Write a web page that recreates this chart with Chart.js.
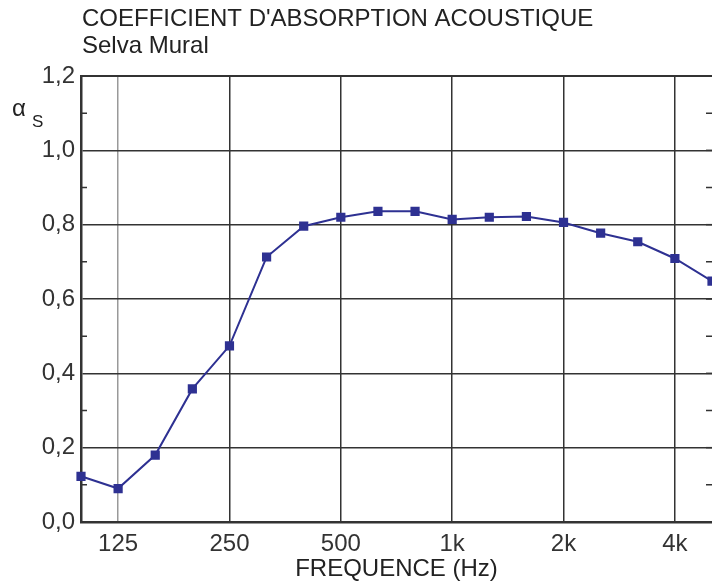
<!DOCTYPE html>
<html><head><meta charset="utf-8">
<script src="https://cdn.jsdelivr.net/npm/chart.js@4/dist/chart.umd.min.js"></script>
<style>html,body{margin:0;padding:0;background:#fff}#wrap{width:712px;height:584px;position:relative}</style>
</head><body><div id="wrap"><canvas id="c"></canvas></div>
<script>
const frequencies = ['100','125','160','200','250','315','400','500','630','800','1000','1250','1600','2000','2500','3150','4000','5000'];
const absorption = [0.123,0.09,0.18,0.358,0.474,0.713,0.796,0.82,0.836,0.836,0.814,0.82,0.822,0.806,0.777,0.754,0.709,0.648];
const xTickLabels = {'125':'125','250':'250','500':'500','1000':'1k','2000':'2k','4000':'4k'};
const yTickLabels = ['0,0','0,2','0,4','0,6','0,8','1,0','1,2'];
const titleText = "COEFFICIENT D'ABSORPTION ACOUSTIQUE";
const subtitleText = 'Selva Mural';
const xTitleText = 'FREQUENCE (Hz)';

const FONT = '"Liberation Sans", Arial, Helvetica, sans-serif';

const decor = {
  id: 'decor',
  beforeDatasetsDraw(chart) {
    const {ctx, chartArea: a, scales: {y}} = chart;
    ctx.save();
    ctx.strokeStyle = '#333';
    ctx.lineWidth = 2;
    ctx.beginPath(); ctx.moveTo(a.left, a.top); ctx.lineTo(a.right, a.top); ctx.stroke();
    ctx.lineWidth = 1.5;
    for (let i = 1; i < 12; i++) {
      const py = y.getPixelForValue(i / 10);
      ctx.beginPath();
      if (i % 2 === 1) { ctx.moveTo(a.left, py); ctx.lineTo(a.left + 6, py); }
      ctx.moveTo(a.right - 6, py); ctx.lineTo(a.right, py);
      ctx.stroke();
    }
    ctx.restore();
  },
  afterDraw(chart) {
    const {ctx, chartArea: a} = chart;
    ctx.save();
    ctx.fillStyle = '#222';
    ctx.textBaseline = 'alphabetic';
    ctx.textAlign = 'left';
    ctx.font = '24px ' + FONT;
    ctx.fillText(titleText, 82, 26);
    ctx.fillText(subtitleText, 82, 53);
    ctx.fillText('\u03B1', 12, 116);
    ctx.font = '17px ' + FONT;
    ctx.fillText('S', 32, 127);
    ctx.font = '24px ' + FONT;
    ctx.textAlign = 'center';
    ctx.fillText(xTitleText, (a.left + a.right) / 2, 576);
    ctx.restore();
  }
};

new Chart(document.getElementById('c'), {
  type: 'line',
  data: {
    labels: frequencies,
    datasets: [{
      data: absorption,
      borderColor: '#2e3192',
      backgroundColor: '#2e3192',
      borderWidth: 2,
      pointStyle: 'rect',
      pointRadius: 6.5,
      pointBorderWidth: 0,
      pointBackgroundColor: '#2e3192',
      tension: 0
    }]
  },
  options: {
    responsive: true,
    maintainAspectRatio: false,
    animation: false,
    events: [],
    layout: {autoPadding: false, padding: {top: 76, left: 0, right: 0, bottom: 0}},
    plugins: {legend: {display: false}, tooltip: {enabled: false}, title: {display: false}},
    scales: {
      x: {
        type: 'category',
        offset: false,
        afterFit(s) { s.height = 62; s.paddingLeft = 0; s.paddingRight = 0; },
        grid: {
          drawTicks: false,
          lineWidth: 1.5,
          color: (c) => (c.tick && c.tick.value === 1 ? '#999' : '#333')
        },
        border: {display: true, color: '#333', width: 2.5},
        ticks: {
          autoSkip: false,
          maxRotation: 0,
          padding: 8,
          color: '#333',
          font: {family: FONT, size: 24},
          callback: function(v, i) {
            const f = frequencies[i];
            return xTickLabels[f] !== undefined ? xTickLabels[f] : null;
          }
        }
      },
      y: {
        min: 0, max: 1.2,
        afterFit(s) { s.width = 81; s.paddingTop = 0; s.paddingBottom = 0; },
        grid: {drawTicks: false, lineWidth: 1.5, color: '#333'},
        border: {display: true, color: '#333', width: 2.5},
        ticks: {
          stepSize: 0.2,
          padding: 6,
          color: '#333',
          font: {family: FONT, size: 24},
          callback: (v, i) => yTickLabels[i]
        }
      }
    }
  },
  plugins: [decor]
});
</script>
</body></html>
